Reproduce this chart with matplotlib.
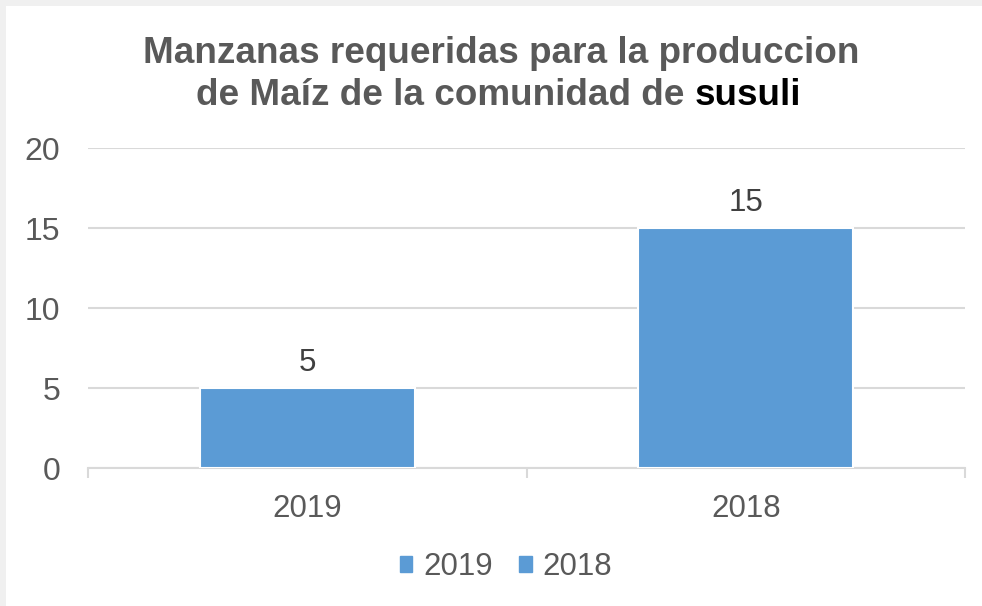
import matplotlib.pyplot as plt
from matplotlib.patches import Rectangle, Patch

years = ["2019", "2018"]
manzanas = [5, 15]
y_ticks = [0, 5, 10, 15, 20]

bar_color = "#5B9BD5"
text_color = "#595959"
grid_color = "#D9D9D9"

plt.rcParams["font.family"] = ["Liberation Sans", "DejaVu Sans"]

fig = plt.figure(figsize=(9.82, 6.06), dpi=100)
fig.patch.set_facecolor("white")
# light gray band on top and left
fig.patches.append(Rectangle((0, 1 - 6 / 606), 1, 6 / 606, transform=fig.transFigure,
                             facecolor="#F0F0F0", edgecolor="none", zorder=-5))
fig.patches.append(Rectangle((0, 0), 6 / 982, 1, transform=fig.transFigure,
                             facecolor="#F0F0F0", edgecolor="none", zorder=-5))

ax = fig.add_axes([88 / 982, 1 - 468 / 606, (965 - 88) / 982, (468 - 148) / 606])
ax.set_facecolor("none")

x = list(range(len(years)))
bars = ax.bar(x, manzanas, width=0.49, color=bar_color, edgecolor="white",
              linewidth=1.5, zorder=3)
for b, v in zip(bars, manzanas):
    ax.annotate(str(v), (b.get_x() + b.get_width() / 2, v), xytext=(0, 7.5),
                textcoords="offset points", ha="center", va="bottom",
                fontsize=22.5, color="#404040")

ax.set_xlim(-0.5, 1.5)
ax.set_ylim(0, 20)
ax.set_yticks(y_ticks)
ax.set_xticks(x)
ax.set_xticklabels(years)
ax.yaxis.grid(True, color=grid_color, linewidth=1.5, zorder=0)
ax.set_axisbelow(True)
for s in ["top", "right", "left"]:
    ax.spines[s].set_visible(False)
ax.spines["bottom"].set_color(grid_color)
ax.spines["bottom"].set_linewidth(1.5)
ax.tick_params(axis="y", length=0, pad=20, labelsize=23, labelcolor=text_color)
ax.tick_params(axis="x", length=0, pad=19, labelsize=22.5, labelcolor=text_color)
# minor ticks at category boundaries
ax.set_xticks([-0.5, 0.5, 1.5], minor=True)
ax.tick_params(axis="x", which="minor", length=7, width=1.5, color=grid_color, direction="out")

# title, last word in black
fig.text(501 / 982, 1 - 63 / 606, "Manzanas requeridas para la produccion", ha="center",
         va="baseline", fontsize=26.6, fontweight="bold", color=text_color)
fig.canvas.draw()
r = fig.canvas.get_renderer()
t1 = fig.text(0, 0, "de Maíz de la comunidad de ", fontsize=26.6, fontweight="bold",
              color=text_color, va="baseline")
t2 = fig.text(0, 0, "susuli", fontsize=26.6, fontweight="bold", color="black", va="baseline")
w1 = t1.get_window_extent(r).width / fig.bbox.width
w2 = t2.get_window_extent(r).width / fig.bbox.width
x0 = 0.508 - (w1 + w2) / 2
yb = 1 - 105 / 606
t1.set_position((x0, yb))
t2.set_position((x0 + w1, yb))

handles = [Patch(color=bar_color, label=y) for y in years]
fig.legend(handles=handles, loc="center", bbox_to_anchor=(506 / 982, 1 - 567 / 606), ncol=2,
           frameon=False, fontsize=22.5, labelcolor=text_color, handlelength=0.4,
           handleheight=0.4, handletextpad=0.35, columnspacing=0.85)

fig.savefig("out.png", dpi=100, facecolor=fig.get_facecolor())
